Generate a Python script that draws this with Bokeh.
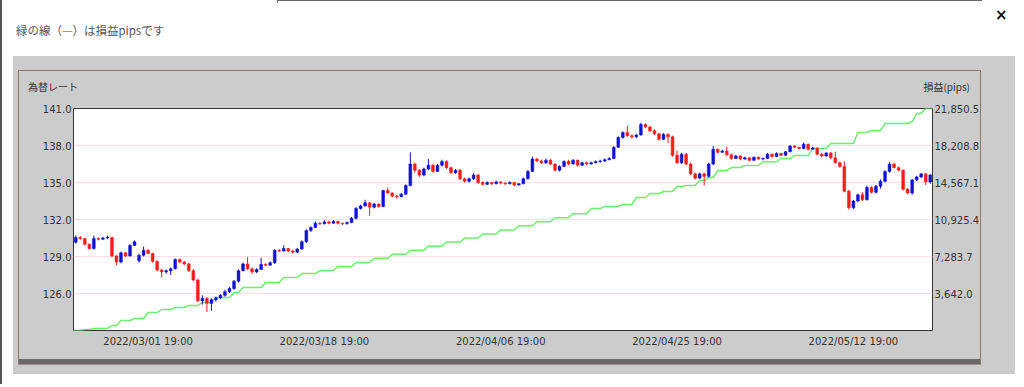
from bokeh.plotting import figure
from bokeh.models import (Range1d, LinearAxis, FixedTicker, NumeralTickFormatter,
                          ColumnDataSource, Div)
from bokeh.layouts import column
from bokeh.embed import file_html
from bokeh.resources import INLINE

# ---------------- data (EUR/JPY 8h candles) ----------------
opens = [
    130.15, 130.55, 130.45, 130.00, 129.65, 130.45, 130.40, 130.50, 130.55, 129.05,
    128.55, 129.30, 129.05, 129.90, 128.65, 129.10, 129.50, 129.25, 128.60, 127.90,
    127.75, 127.85, 128.00, 128.75, 128.55, 128.40, 127.85, 127.10, 125.40, 125.60,
    125.20, 125.50, 125.65, 125.85, 126.15, 126.40, 127.00, 127.85, 128.40, 128.00,
    127.75, 127.95, 128.35, 128.30, 128.50, 129.50, 129.45, 129.65, 129.45, 129.35,
    129.60, 130.20, 131.10, 131.35, 131.70, 131.65, 131.80, 131.70, 131.85, 131.70,
    131.65, 131.75, 132.10, 132.90, 133.10, 133.35, 133.00, 133.25, 133.05, 134.35,
    134.15, 133.90, 133.85, 134.05, 134.75, 136.50, 136.00, 135.60, 136.10, 136.40,
    135.90, 136.40, 136.70, 136.20, 135.80, 136.00, 135.30, 135.10, 135.30, 135.60,
    135.00, 134.85, 135.00, 134.90, 135.05, 134.95, 134.90, 135.00, 134.80, 134.90,
    135.30, 135.90, 136.90, 136.75, 136.60, 136.80, 136.50, 136.00, 136.30, 136.70,
    136.50, 136.80, 136.40, 136.60, 136.50, 136.60, 136.70, 136.75, 136.85, 136.95,
    137.85, 138.65, 139.05, 138.80, 138.70, 138.85, 139.70, 139.50, 139.20, 138.95,
    138.50, 138.90, 138.70, 137.20, 136.60, 137.30, 136.50, 135.70, 135.35, 135.70,
    135.50, 136.50, 137.70, 137.45, 137.55, 137.25, 136.95, 137.15, 136.90, 137.00,
    136.80, 137.05, 136.90, 136.95, 137.30, 137.10, 137.35, 137.20, 137.50, 137.95,
    137.85, 137.75, 138.10, 137.70, 137.80, 137.30, 137.15, 137.40, 137.00, 136.60,
    136.30, 134.30, 132.95, 133.50, 134.00, 133.60, 134.60, 134.20, 134.70, 135.10,
    135.90, 136.50, 136.20, 136.00, 134.45, 134.15, 135.20, 135.45, 135.70, 135.05,
]
highs = [
    130.70, 130.65, 130.50, 130.05, 130.70, 130.55, 130.60, 130.70, 130.60, 129.10,
    129.40, 129.35, 130.00, 130.30, 129.20, 129.80, 129.60, 129.30, 128.70, 128.00,
    127.95, 128.10, 128.85, 128.85, 128.65, 128.50, 128.00, 127.20, 125.85, 125.70,
    125.60, 125.75, 125.95, 126.30, 126.55, 127.10, 127.95, 128.50, 128.95, 128.10,
    128.05, 128.90, 128.45, 128.60, 129.60, 129.60, 129.90, 129.70, 129.55, 129.70,
    130.30, 131.20, 131.45, 131.85, 131.80, 131.95, 131.90, 131.95, 131.90, 131.75,
    131.85, 132.20, 133.00, 133.20, 133.60, 133.40, 133.35, 133.30, 134.40, 134.60,
    134.20, 134.00, 134.15, 134.85, 137.45, 136.60, 136.10, 136.20, 136.90, 136.50,
    136.50, 136.85, 136.80, 136.30, 136.10, 136.10, 135.40, 135.40, 135.75, 135.70,
    135.10, 135.10, 135.05, 135.15, 135.10, 135.00, 135.10, 135.05, 134.95, 135.40,
    136.00, 137.10, 137.00, 136.85, 136.95, 136.90, 136.55, 136.40, 136.80, 136.85,
    136.90, 136.85, 136.70, 136.70, 136.70, 136.80, 136.85, 136.95, 137.05, 137.95,
    138.75, 139.15, 139.60, 138.90, 138.95, 139.85, 139.80, 139.60, 139.30, 139.00,
    139.00, 139.00, 138.80, 137.60, 137.40, 137.40, 136.60, 135.80, 135.80, 135.80,
    136.60, 137.95, 137.75, 137.65, 137.90, 137.35, 137.25, 137.20, 137.10, 137.05,
    137.10, 137.10, 137.00, 137.40, 137.35, 137.45, 137.40, 137.55, 138.05, 138.05,
    137.90, 138.25, 138.15, 137.90, 137.85, 137.40, 137.45, 137.45, 137.50, 136.70,
    136.70, 134.40, 133.60, 134.10, 134.20, 134.75, 134.70, 134.80, 135.25, 136.00,
    136.65, 136.60, 136.30, 136.05, 134.55, 135.30, 135.55, 135.75, 135.75, 135.70,
]
lows = [
    130.05, 130.35, 129.90, 129.55, 129.55, 130.30, 130.35, 130.40, 128.95, 128.30,
    128.45, 128.95, 129.00, 129.85, 128.50, 129.00, 129.20, 128.50, 127.80, 127.30,
    127.60, 127.50, 127.95, 128.45, 128.30, 127.75, 127.00, 125.30, 125.10, 124.50,
    124.60, 125.35, 125.55, 125.75, 126.05, 126.30, 126.90, 127.80, 127.90, 127.60,
    127.65, 127.90, 128.20, 128.25, 128.40, 129.35, 129.40, 129.35, 129.25, 129.30,
    129.55, 130.10, 131.00, 131.30, 131.55, 131.60, 131.60, 131.65, 131.60, 131.55,
    131.60, 131.70, 132.00, 132.80, 133.05, 132.30, 132.90, 132.95, 133.00, 134.10,
    133.80, 133.70, 133.80, 134.00, 134.70, 135.80, 135.45, 135.50, 136.00, 135.80,
    135.85, 136.30, 136.10, 135.70, 135.70, 135.20, 135.00, 135.00, 135.20, 134.90,
    134.75, 134.80, 134.80, 134.85, 134.85, 134.80, 134.85, 134.70, 134.75, 134.85,
    135.25, 135.85, 136.65, 136.50, 136.50, 136.40, 135.90, 135.90, 136.25, 136.40,
    136.45, 136.30, 136.35, 136.40, 136.45, 136.55, 136.60, 136.65, 136.80, 136.90,
    137.80, 138.55, 138.70, 138.55, 138.60, 138.80, 139.40, 139.10, 138.85, 138.40,
    138.45, 138.20, 137.10, 136.50, 136.50, 136.40, 135.60, 135.25, 135.30, 134.75,
    135.40, 136.40, 137.35, 137.40, 137.15, 136.85, 136.90, 136.80, 136.85, 136.70,
    136.75, 136.85, 136.80, 136.90, 137.00, 137.05, 137.15, 137.15, 137.45, 137.80,
    137.70, 137.70, 137.60, 137.65, 137.20, 137.05, 137.10, 136.90, 136.55, 136.20,
    134.20, 132.80, 132.85, 133.40, 133.50, 133.55, 134.10, 134.10, 134.50, 135.00,
    135.80, 136.15, 135.90, 134.35, 134.05, 134.00, 135.10, 135.35, 134.80, 134.90,
]
closes = [
    130.55, 130.45, 130.00, 129.65, 130.45, 130.40, 130.50, 130.55, 129.05, 128.55,
    129.30, 129.05, 129.90, 130.20, 129.10, 129.50, 129.25, 128.60, 127.90, 127.75,
    127.85, 128.00, 128.75, 128.55, 128.40, 127.85, 127.10, 125.40, 125.60, 125.20,
    125.50, 125.65, 125.85, 126.15, 126.40, 127.00, 127.85, 128.40, 128.00, 127.75,
    127.95, 128.35, 128.30, 128.50, 129.50, 129.45, 129.65, 129.45, 129.35, 129.60,
    130.20, 131.10, 131.35, 131.70, 131.65, 131.80, 131.70, 131.85, 131.70, 131.65,
    131.75, 132.10, 132.90, 133.10, 133.35, 133.00, 133.25, 133.05, 134.35, 134.15,
    133.90, 133.85, 134.05, 134.75, 136.50, 136.00, 135.60, 136.10, 136.40, 135.90,
    136.40, 136.70, 136.20, 135.80, 136.00, 135.30, 135.10, 135.30, 135.60, 135.00,
    134.85, 135.00, 134.90, 135.05, 134.95, 134.90, 135.00, 134.80, 134.90, 135.30,
    135.90, 136.90, 136.75, 136.60, 136.80, 136.50, 136.00, 136.30, 136.70, 136.50,
    136.80, 136.40, 136.60, 136.50, 136.60, 136.70, 136.75, 136.85, 136.95, 137.85,
    138.65, 139.05, 138.80, 138.70, 138.85, 139.70, 139.50, 139.20, 138.95, 138.50,
    138.90, 138.70, 137.20, 136.60, 137.30, 136.50, 135.70, 135.35, 135.70, 135.50,
    136.50, 137.70, 137.45, 137.55, 137.25, 136.95, 137.15, 136.90, 137.00, 136.80,
    137.05, 136.90, 136.95, 137.30, 137.10, 137.35, 137.20, 137.50, 137.95, 137.85,
    137.75, 138.10, 137.70, 137.80, 137.30, 137.15, 137.40, 137.00, 136.60, 136.30,
    134.30, 132.95, 133.50, 134.00, 133.60, 134.60, 134.20, 134.70, 135.10, 135.90,
    136.50, 136.20, 136.00, 134.45, 134.15, 135.20, 135.45, 135.70, 135.05, 135.60,
]

# profit (pips) line: bar index where a new level starts, and that level
pnl_start = [0, 2, 4, 8, 10, 13, 16, 19, 22, 25, 28, 31, 35, 37, 42, 46, 50,
             54, 58, 62, 66, 70, 74, 78, 82, 86, 90, 94, 98, 102, 106, 110, 114, 117,
             121, 124, 127, 130, 133, 135, 138, 140, 142, 145, 148, 152, 156, 159,
             163, 167, 173, 176, 179, 185, 186, 188]
pnl_level = [0, 100, 200, 490, 980, 1180, 1770, 2070, 2260, 2460, 2760, 3250, 3740,
             4230, 4720, 5220, 5610,
             5900, 6300, 6700, 7100, 7500, 7900, 8300, 8700, 9100, 9500, 9900, 10300,
             10700, 11100, 11500, 12000, 12200,
             12400, 13090, 13480, 13680, 14170, 14270, 14760, 15060, 15750, 16040,
             16240, 16600, 16930, 17220, 17910, 18400, 19490, 19690, 20370, 20570,
             21360, 21850.5]

price_ticks = [126.0, 129.0, 132.0, 135.0, 138.0, 141.0]
pips_ticks = [3642.0, 7283.7, 10925.4, 14567.1, 18208.8, 21850.5]
date_tick_idx = [16, 55, 94, 133, 172]
date_tick_labels = ["2022/03/01 19:00", "2022/03/18 19:00", "2022/04/06 19:00",
                    "2022/04/25 19:00", "2022/05/12 19:00"]

# ---------------- build ----------------
N = len(closes)
UP, DOWN = "#1010dc", "#ff1a1a"
src = ColumnDataSource(dict(
    x=list(range(N)), high=highs, low=lows,
    top=[max(o, c) for o, c in zip(opens, closes)],
    bottom=[min(o, c) for o, c in zip(opens, closes)],
    color=[UP if c >= o else DOWN for o, c in zip(opens, closes)],
))

px, py = [], []
for k, (s, v) in enumerate(zip(pnl_start, pnl_level)):
    x0 = -0.5 if k == 0 else s
    x1 = (pnl_start[k + 1] - 1) if k + 1 < len(pnl_start) else N - 0.5
    px += [x0, x1]
    py += [v, v]

W = 1020
GRAY = "#cccccc"
EDGE = "#857b6e"


def rect(color, x, y, w, h):
    return f"linear-gradient({color},{color}) {x}px {y}px / {w}px {h}px no-repeat"


# ---- header (page y 0..100): title, close mark, axis captions ----
head_bg = ", ".join([
    rect("#555555", 0, 0, 2, 100),    # page edge on the left
    rect("#666666", 277, 0, 705, 1),  # edge of the element behind, top
    rect("#666666", 277, 0, 1, 3),
    rect(EDGE, 18, 70, 963, 1),       # inner panel top edge
    rect(EDGE, 18, 70, 1, 30),        # inner panel left edge
    rect(EDGE, 980, 70, 1, 30),       # inner panel right edge
    rect(GRAY, 13, 56, 1002, 44),     # gray box
])
head_html = (
    '<div style="position:relative;width:1020px;height:100px;">'
    '<span style="position:absolute;left:16px;top:22px;font-family:\'Noto Sans CJK JP\';'
    'font-size:11.5px;line-height:16px;color:#555555;white-space:nowrap;">'
    '緑の線（<span style="color:#33dd33;font-weight:bold;">—</span>）は損益pipsです</span>'
    '<span style="position:absolute;left:995px;top:6px;font-family:\'DejaVu Sans\';'
    'font-weight:bold;font-size:15px;line-height:18px;color:#111111;">×</span>'
    '<span style="position:absolute;left:28px;top:80px;font-family:\'Noto Sans CJK JP\';'
    'font-size:10px;line-height:14px;color:#333333;white-space:nowrap;">為替レート</span>'
    '<span style="position:absolute;right:50px;top:80px;font-family:\'Noto Sans CJK JP\';'
    'font-size:10px;line-height:14px;color:#333333;white-space:nowrap;">損益(pips)</span>'
    '</div>'
)
head = Div(text=head_html, width=W, height=100,
           styles={"background": head_bg, "margin": "0", "padding": "0"})

# ---- chart (page y 100..384) ----
H = 284
fig_bg = ", ".join([
    rect("#555555", 0, 0, 2, H),       # page edge on the left
    rect("#9a9088", 18, 264, 963, 1),  # line under the bar
    rect("#6a6a6a", 19, 259, 961, 5),  # dark bottom bar
    rect(EDGE, 18, 0, 1, 265),         # inner left edge
    rect(EDGE, 980, 0, 1, 265),        # inner right edge
    rect(GRAY, 13, 0, 1002, 274),      # gray box
])

p = figure(width=W, height=H, output_backend="svg", toolbar_location=None,
           x_range=Range1d(-0.5, N - 0.5), y_range=Range1d(123, 141),
           min_border_left=73, min_border_right=W - 932, min_border_top=8,
           min_border_bottom=H - 230, border_fill_color=None,
           background_fill_color="white", outline_line_color="#333333",
           styles={"background": fig_bg})
p.extra_y_ranges = {"pips": Range1d(0.3, 21850.5)}

p.line(px, py, y_range_name="pips", line_color="#6cf06c", line_width=1.5)
p.segment(x0="x", x1="x", y0="low", y1="high", source=src, line_color="color",
          line_width=1)
p.vbar(x="x", width=0.62, top="top", bottom="bottom", source=src,
       fill_color="color", line_color="color", line_width=0.5)

# ---- axes ----
p.xgrid.visible = False
p.ygrid.ticker = FixedTicker(ticks=price_ticks[:-1])
p.ygrid.grid_line_color = "#ffdce6"
p.ygrid.grid_line_width = 1

ya = p.yaxis[0]
ya.ticker = FixedTicker(ticks=price_ticks)
ya.formatter = NumeralTickFormatter(format="0.0")

ra = LinearAxis(y_range_name="pips", ticker=FixedTicker(ticks=pips_ticks),
                formatter=NumeralTickFormatter(format="0,0.0"))
p.add_layout(ra, "right")

xa = p.xaxis[0]
xa.ticker = FixedTicker(ticks=date_tick_idx)
xa.major_label_overrides = {i: s for i, s in zip(date_tick_idx, date_tick_labels)}

for ax in (ya, ra, xa):
    ax.axis_line_color = None
    ax.major_tick_line_color = None
    ax.major_tick_out = 0
    ax.major_tick_in = 0
    ax.minor_tick_line_color = None
    ax.major_label_text_font = "DejaVu Sans"
    ax.major_label_text_font_size = "10px"
    ax.major_label_text_color = "#333333"
ya.major_label_standoff = 2
ra.major_label_standoff = 2
xa.major_label_standoff = 5

root = column(head, p, spacing=0)
open("out.html", "w").write(file_html(root, INLINE))
